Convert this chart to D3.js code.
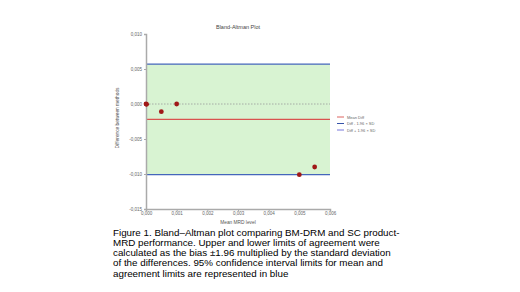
<!DOCTYPE html>
<html>
<head>
<meta charset="utf-8">
<script src="https://cdn.jsdelivr.net/npm/d3@7"></script>
<style>
  body { margin: 0; background: #fff; }
  svg { display: block; }
</style>
</head>
<body>
<script>
// data
const meanMRD = [0.0000, 0.00002, 0.0005, 0.0010, 0.0050, 0.0055];
const diffs   = [0.0000, -0.00005, -0.0011, 0.0000, -0.0101, -0.0090];
const meanDiff = -0.0022;
const upperLoA = 0.0057;
const lowerLoA = -0.0101;
const xTicks = [0, 0.001, 0.002, 0.003, 0.004, 0.005, 0.006];
const yTicks = [0.010, 0.005, 0, -0.005, -0.010, -0.015];
const legendLabels = ["Mean Diff", "Diff - 1.96 \u00d7 SD", "Diff + 1.96 \u00d7 SD"];
const legendColors = ["#d9534f", "#1f3f9f", "#6a6ad8"];
const caption = [
  "Figure 1. Bland\u2013Altman plot comparing BM-DRM  and SC product-",
  "MRD performance. Upper and lower limits of agreement were",
  "calculated as the bias \u00b11.96 multiplied by the standard deviation",
  "of the differences. 95% confidence interval limits for mean and",
  "agreement limits are represented in blue"
];

const W = 520, H = 292;
const svg = d3.select("body").append("svg")
    .attr("width", W)
    .attr("height", H);

const margin = {top: 34, left: 146};
const plotW = 184, plotH = 175;

const g = svg.append("g")
    .attr("transform", `translate(${margin.left}, ${margin.top})`);

const x = d3.scaleLinear().domain([0, 0.006]).range([0, plotW]);
const y = d3.scaleLinear().domain([-0.015, 0.010]).range([plotH, 0]);

const fmt = d => d3.format(".3f")(d).replace(".", ",").replace("\u2212", "-");

// green band between limits
g.append("rect")
    .attr("x", x(0))
    .attr("y", y(upperLoA))
    .attr("width", x(0.006) - x(0))
    .attr("height", y(lowerLoA) - y(upperLoA))
    .attr("fill", "#d8f3d2");

// zero dotted line
g.append("line")
    .attr("x1", x(0)).attr("x2", x(0.006))
    .attr("y1", y(0)).attr("y2", y(0))
    .attr("stroke", "#999")
    .attr("stroke-width", 0.8)
    .attr("stroke-dasharray", "1.5,1.5");

// mean + limits
g.append("line")
    .attr("x1", x(0)).attr("x2", x(0.006))
    .attr("y1", y(meanDiff)).attr("y2", y(meanDiff))
    .attr("stroke", "#d9534f").attr("stroke-width", 1.2);

g.append("line")
    .attr("x1", x(0)).attr("x2", x(0.006))
    .attr("y1", y(upperLoA)).attr("y2", y(upperLoA))
    .attr("stroke", "#4466bb").attr("stroke-width", 1.3);

g.append("line")
    .attr("x1", x(0)).attr("x2", x(0.006))
    .attr("y1", y(lowerLoA)).attr("y2", y(lowerLoA))
    .attr("stroke", "#4466bb").attr("stroke-width", 1.3);

// axes
const xAxis = d3.axisBottom(x).tickValues(xTicks).tickFormat(fmt).tickSize(2).tickPadding(1);
const yAxis = d3.axisLeft(y).tickValues(yTicks).tickFormat(fmt).tickSize(2).tickPadding(2);

g.append("g")
    .attr("transform", `translate(0, ${plotH})`)
    .call(xAxis)
    .call(a => a.select(".domain").attr("stroke", "#aaa").attr("stroke-width", 1.5))
    .call(a => a.selectAll(".tick line").attr("stroke", "#aaa"))
    .call(a => a.selectAll("text").attr("fill", "#666").attr("font-size", 4.5).attr("font-family", "Liberation Sans, Arial, sans-serif"));

g.append("g")
    .call(yAxis)
    .call(a => a.select(".domain").attr("stroke", "#aaa").attr("stroke-width", 1.5))
    .call(a => a.selectAll(".tick line").attr("stroke", "#aaa"))
    .call(a => a.selectAll("text").attr("fill", "#666").attr("font-size", 4.5).attr("font-family", "Liberation Sans, Arial, sans-serif"));

// points
g.selectAll("circle")
    .data(meanMRD)
    .join("circle")
      .attr("cx", d => x(d))
      .attr("cy", (d, i) => y(diffs[i]))
      .attr("r", 2.4)
      .attr("fill", "#a01818");

// titles
g.append("text")
    .attr("x", plotW / 2)
    .attr("y", -5)
    .attr("text-anchor", "middle")
    .attr("font-family", "Liberation Sans, Arial, sans-serif")
    .attr("font-size", 5.5)
    .attr("fill", "#444")
    .text("Bland-Altman Plot");

g.append("text")
    .attr("x", plotW / 2)
    .attr("y", plotH + 15)
    .attr("text-anchor", "middle")
    .attr("font-family", "Liberation Sans, Arial, sans-serif")
    .attr("font-size", 4.8)
    .attr("fill", "#555")
    .text("Mean MRD level");

g.append("text")
    .attr("transform", `translate(-27, ${y(-0.002)}) rotate(-90)`)
    .attr("text-anchor", "middle")
    .attr("font-family", "Liberation Sans, Arial, sans-serif")
    .attr("font-size", 4.8)
    .attr("fill", "#555")
    .text("Difference between methods");

// legend
const leg = svg.append("g")
    .attr("transform", "translate(337, 117)");

leg.selectAll("line")
    .data(legendLabels)
    .join("line")
      .attr("x1", 0).attr("x2", 7)
      .attr("y1", (d, i) => i * 6.5).attr("y2", (d, i) => i * 6.5)
      .attr("stroke", (d, i) => legendColors[i])
      .attr("stroke-width", 0.9);

leg.selectAll("text")
    .data(legendLabels)
    .join("text")
      .attr("x", 10)
      .attr("y", (d, i) => i * 6.5 + 1.5)
      .attr("font-family", "Liberation Sans, Arial, sans-serif")
      .attr("font-size", 4)
      .attr("fill", "#666")
      .text(d => d);

// caption
svg.append("g")
    .selectAll("text")
    .data(caption)
    .join("text")
      .attr("x", 113)
      .attr("y", (d, i) => 235.5 + i * 10.3)
      .attr("font-family", "Liberation Sans, Arial, sans-serif")
      .attr("font-size", 9.8)
      .attr("fill", "#000")
      .text(d => d);
</script>
</body>
</html>
